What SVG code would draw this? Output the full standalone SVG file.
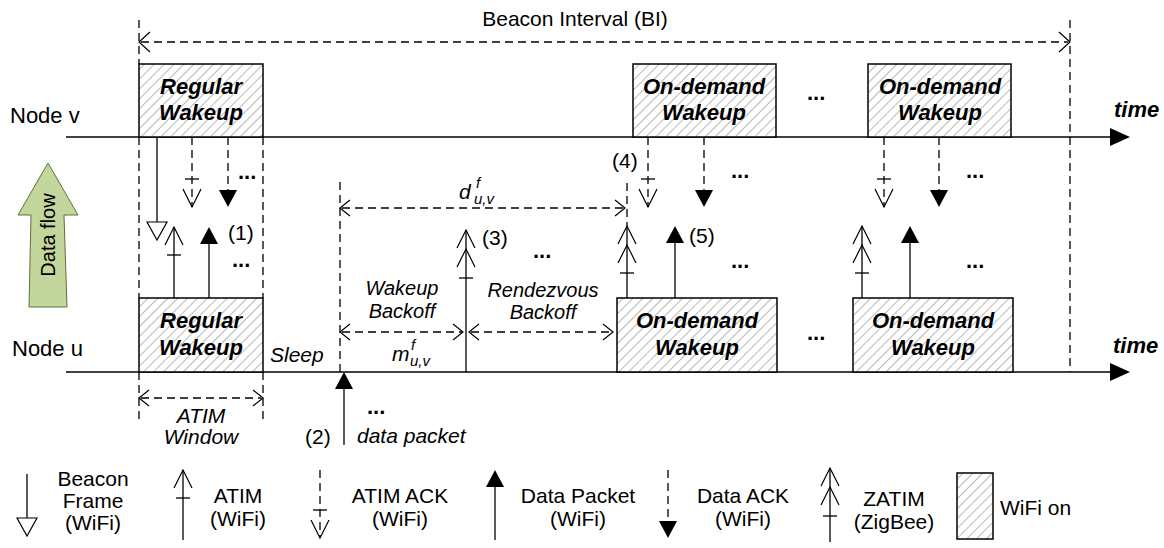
<svg xmlns="http://www.w3.org/2000/svg" width="1164" height="548" viewBox="0 0 1164 548">
<defs>
<pattern id="hatch" patternUnits="userSpaceOnUse" width="7" height="7" patternTransform="rotate(45)">
<rect width="7" height="7" fill="#fff"/>
<line x1="0" y1="0" x2="0" y2="7" stroke="#a6a6a6" stroke-width="1.6"/>
</pattern>
<polygon id="tf-down" points="-9,-17 9,-17 0,0" fill="#000"/>
<polygon id="tf-up" points="-9,17 9,17 0,0" fill="#000"/>
<polygon id="th-down" points="-10,-18 10,-18 0,0" fill="#fff" stroke="#000" stroke-width="1.2"/>
<polyline id="v-up" points="-9,18 0,0 9,18" fill="none" stroke="#000" stroke-width="1.2"/>
<polyline id="v-down" points="-9,-18 0,0 9,-18" fill="none" stroke="#000" stroke-width="1.2"/>
<polyline id="ch-l" points="11,-10 0,0 11,10" fill="none" stroke="#000" stroke-width="1.2"/>
<polyline id="ch-r" points="-11,-10 0,0 -11,10" fill="none" stroke="#000" stroke-width="1.2"/>
<polyline id="cs-l" points="10,-8 0,0 10,8" fill="none" stroke="#000" stroke-width="1.2"/>
<polyline id="cs-r" points="-10,-8 0,0 -10,8" fill="none" stroke="#000" stroke-width="1.2"/>
<polygon id="timehead" points="-20,-9 0,0 -20,9" fill="#000"/>
</defs>
<style>
.s{stroke:#000;stroke-width:1.3;fill:none}
.d{stroke:#000;stroke-width:1.3;fill:none;stroke-dasharray:8 5}
.tl{stroke:#000;stroke-width:1.5;fill:none}
.box{fill:url(#hatch);stroke:#000;stroke-width:1.5}
.t{font-family:"Liberation Sans",Arial,sans-serif;font-size:21px;fill:#000}
.n{font-family:"Liberation Sans",Arial,sans-serif;font-size:22px;fill:#000}
.it{font-family:"Liberation Sans",Arial,sans-serif;font-size:21px;font-style:italic;fill:#000}
.bi{font-family:"Liberation Sans",Arial,sans-serif;font-size:22px;font-weight:bold;font-style:italic;fill:#000}
.dots{font-family:"Liberation Sans",Arial,sans-serif;font-size:22px;font-weight:bold;fill:#000}
.sm{font-size:15px}
.mid{text-anchor:middle}
</style>
<rect width="1164" height="548" fill="#fff"/>

<g id="beacon-interval">
<text class="t mid" x="575" y="26">Beacon Interval (BI)</text>
</g>

<g id="timelines">
<line class="tl" x1="66" y1="137" x2="1112" y2="137"/>
<use href="#timehead" x="1130" y="137"/>
<line class="tl" x1="66" y1="372" x2="1112" y2="372"/>
<use href="#timehead" x="1130" y="372"/>
<text class="n" x="10" y="123">Node v</text>
<text class="n" x="12" y="356">Node u</text>
<text class="bi" x="1114" y="117">time</text>
<text class="bi" x="1113" y="353">time</text>
</g>

<g id="connectors">
<line class="d" x1="139" y1="20" x2="139" y2="64"/>
<line class="d" x1="139" y1="137" x2="139" y2="298"/>
<line class="d" x1="139" y1="372" x2="139" y2="423"/>
<line class="d" x1="263" y1="137" x2="263" y2="298"/>
<line class="d" x1="263" y1="372" x2="263" y2="423"/>
<line class="d" x1="340" y1="182" x2="340" y2="372"/>
<line class="d" x1="627" y1="183" x2="627" y2="226"/>
<line class="d" x1="1070" y1="20" x2="1070" y2="372"/>
<line class="d" x1="141" y1="42" x2="1068" y2="42"/>
<use href="#ch-l" x="139" y="42"/>
<use href="#ch-r" x="1070" y="42"/>
<line class="d" x1="342" y1="208" x2="625" y2="208"/>
<use href="#cs-l" x="340" y="208"/>
<use href="#cs-r" x="625" y="208"/>
<line class="d" x1="342" y1="332" x2="462" y2="332"/>
<use href="#cs-l" x="340" y="332"/>
<use href="#cs-r" x="463" y="332"/>
<line class="d" x1="471" y1="332" x2="612" y2="332"/>
<use href="#cs-l" x="469" y="332"/>
<use href="#cs-r" x="613" y="332"/>
<line class="d" x1="141" y1="398" x2="261" y2="398"/>
<use href="#cs-l" x="139" y="398"/>
<use href="#cs-r" x="263" y="398"/>

<line class="s" x1="157" y1="137" x2="157" y2="222"/>
<use href="#th-down" x="157" y="240"/>
<line class="d" x1="192" y1="137" x2="192" y2="207"/>
<line class="s" x1="185" y1="179" x2="199" y2="179"/>
<use href="#v-down" x="192" y="207"/>
<line class="d" x1="228" y1="137" x2="228" y2="192"/>
<use href="#tf-down" x="228" y="207"/>
<line class="s" x1="174" y1="298" x2="174" y2="227"/>
<use href="#v-up" x="174" y="227"/>
<line class="s" x1="167" y1="255" x2="181" y2="255"/>
<line class="s" x1="209" y1="298" x2="209" y2="243"/>
<use href="#tf-up" x="209" y="227"/>

<line class="s" x1="344" y1="445" x2="344" y2="388"/>
<use href="#tf-up" x="344" y="372"/>
<line class="s" x1="466" y1="372" x2="466" y2="230"/>
<use href="#v-up" x="466" y="230"/>
<use href="#v-up" x="466" y="249"/>
<line class="s" x1="459" y1="278" x2="473" y2="278"/>

<line class="d" x1="648" y1="137" x2="648" y2="207"/>
<line class="s" x1="641" y1="179" x2="655" y2="179"/>
<use href="#v-down" x="648" y="207"/>
<line class="d" x1="704" y1="137" x2="704" y2="192"/>
<use href="#tf-down" x="704" y="207"/>
<line class="s" x1="627" y1="298" x2="627" y2="226"/>
<use href="#v-up" x="627" y="226"/>
<use href="#v-up" x="627" y="245"/>
<line class="s" x1="620" y1="273" x2="634" y2="273"/>
<line class="s" x1="675" y1="298" x2="675" y2="242"/>
<use href="#tf-up" x="675" y="226"/>

<line class="d" x1="884" y1="137" x2="884" y2="207"/>
<line class="s" x1="877" y1="179" x2="891" y2="179"/>
<use href="#v-down" x="884" y="207"/>
<line class="d" x1="939" y1="137" x2="939" y2="192"/>
<use href="#tf-down" x="939" y="207"/>
<line class="s" x1="862" y1="298" x2="862" y2="226"/>
<use href="#v-up" x="862" y="226"/>
<use href="#v-up" x="862" y="245"/>
<line class="s" x1="855" y1="273" x2="869" y2="273"/>
<line class="s" x1="910" y1="298" x2="910" y2="242"/>
<use href="#tf-up" x="910" y="226"/>
</g>

<g id="node-v-regular">
<rect class="box" x="139" y="64" width="124" height="73"/>
<text class="bi mid" x="201" y="94">Regular</text>
<text class="bi mid" x="201" y="120">Wakeup</text>
</g>
<g id="node-u-regular">
<rect class="box" x="139" y="298" width="124" height="74"/>
<text class="bi mid" x="201" y="328">Regular</text>
<text class="bi mid" x="201" y="355">Wakeup</text>
</g>
<g id="node-v-ondemand-1">
<rect class="box" x="633" y="64" width="143" height="73"/>
<text class="bi mid" x="704" y="94">On-demand</text>
<text class="bi mid" x="704" y="120">Wakeup</text>
</g>
<g id="node-v-ondemand-2">
<rect class="box" x="868" y="64" width="143" height="73"/>
<text class="bi mid" x="940" y="94">On-demand</text>
<text class="bi mid" x="940" y="120">Wakeup</text>
</g>
<g id="node-u-ondemand-1">
<rect class="box" x="617" y="298" width="160" height="74"/>
<text class="bi mid" x="697" y="328">On-demand</text>
<text class="bi mid" x="697" y="355">Wakeup</text>
</g>
<g id="node-u-ondemand-2">
<rect class="box" x="853" y="298" width="160" height="74"/>
<text class="bi mid" x="933" y="328">On-demand</text>
<text class="bi mid" x="933" y="355">Wakeup</text>
</g>

<g id="data-flow">
<polygon points="48,163 78,215 64,215 67,307 29,307 31,215 18,215" fill="#c3d69b" stroke="#5f6f3f" stroke-width="1"/>
<text class="t mid" style="font-size:20px" transform="translate(55,235) rotate(-90)">Data flow</text>
</g>

<g id="labels">
<text class="dots" x="238" y="179">...</text>
<text class="dots" x="232" y="267">...</text>
<text class="t" x="228" y="240">(1)</text>
<text class="t" x="305" y="444">(2)</text>
<text class="dots" x="367" y="414">...</text>
<text class="it" x="357" y="443">data packet</text>
<text class="t" x="482" y="245">(3)</text>
<text class="dots" x="533" y="258">...</text>
<text class="t" x="612" y="168">(4)</text>
<text class="t" x="689" y="243">(5)</text>
<text class="dots" x="731" y="178">...</text>
<text class="dots" x="731" y="268">...</text>
<text class="dots" x="966" y="178">...</text>
<text class="dots" x="966" y="268">...</text>
<text class="dots" x="807" y="100">...</text>
<text class="dots" x="807" y="340">...</text>
<text class="it" x="270" y="362">Sleep</text>
<text class="it mid" style="font-size:20px" x="402" y="295">Wakeup</text>
<text class="it mid" style="font-size:20px" x="402" y="318">Backoff</text>
<text class="it mid" style="font-size:20px" x="543" y="297">Rendezvous</text>
<text class="it mid" style="font-size:20px" x="543" y="319">Backoff</text>
<text class="it mid" x="201" y="423">ATIM</text>
<text class="it mid" x="201" y="444">Window</text>
<text class="it" x="459" y="199">d<tspan class="sm" x="474" y="204">u,v</tspan><tspan class="sm" x="476" y="188">f</tspan></text>
<text class="it" x="392" y="361">m<tspan class="sm" x="410" y="366">u,v</tspan><tspan class="sm" x="411" y="350">f</tspan></text>
</g>

<g id="legend">
<line class="s" x1="27" y1="474" x2="27" y2="518"/>
<use href="#th-down" x="27" y="536"/>
<text class="t mid" x="93" y="486">Beacon</text>
<text class="t mid" x="93" y="508">Frame</text>
<text class="t mid" x="93" y="530">(WiFi)</text>

<line class="s" x1="183" y1="540" x2="183" y2="470"/>
<use href="#v-up" x="183" y="470"/>
<line class="s" x1="176" y1="498" x2="190" y2="498"/>
<text class="t mid" x="238" y="503">ATIM</text>
<text class="t mid" x="238" y="526">(WiFi)</text>

<line class="d" x1="320" y1="470" x2="320" y2="538"/>
<line class="s" x1="313" y1="510" x2="327" y2="510"/>
<use href="#v-down" x="320" y="538"/>
<text class="t mid" x="400" y="503">ATIM ACK</text>
<text class="t mid" x="400" y="526">(WiFi)</text>

<line class="s" x1="495" y1="540" x2="495" y2="486"/>
<use href="#tf-up" x="495" y="470"/>
<text class="t mid" x="578" y="503">Data Packet</text>
<text class="t mid" x="578" y="526">(WiFi)</text>

<line class="d" x1="668" y1="470" x2="668" y2="522"/>
<use href="#tf-down" x="668" y="538"/>
<text class="t mid" x="743" y="503">Data ACK</text>
<text class="t mid" x="743" y="526">(WiFi)</text>

<line class="s" x1="830" y1="542" x2="830" y2="468"/>
<use href="#v-up" x="830" y="468"/>
<use href="#v-up" x="830" y="487"/>
<line class="s" x1="823" y1="516" x2="837" y2="516"/>
<text class="t mid" x="894" y="506">ZATIM</text>
<text class="t mid" x="894" y="529">(ZigBee)</text>

<rect class="box" x="957" y="473" width="36" height="66"/>
<text class="t" x="1000" y="515">WiFi on</text>
</g>
</svg>
